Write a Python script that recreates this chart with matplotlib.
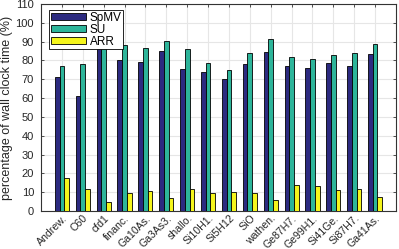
import numpy as np
import matplotlib
matplotlib.use('Agg')
import matplotlib.pyplot as plt

plt.rcParams['font.family'] = ['Liberation Sans', 'DejaVu Sans']

matrices = ['Andrew.', 'C60', 'cfd1', 'financ.', 'Ga10As.', 'Ga3As3.', 'shallo.',
            'Si10H1.', 'Si5H12', 'SiO', 'wathen.', 'Ge87H7.', 'Ge99H1.',
            'Si41Ge.', 'Si87H7.', 'Ga41As.']
spmv = [71.1, 61.2, 88.0, 80.4, 79.1, 84.8, 75.7, 74.1, 69.9, 78.2, 84.6,
        77.0, 76.1, 78.6, 77.2, 83.6]
su = [77.3, 77.9, 93.0, 88.0, 86.6, 90.1, 86.2, 78.8, 74.7, 84.1, 91.4,
      81.8, 80.9, 83.0, 83.7, 88.7]
arr = [17.8, 11.6, 4.6, 9.6, 10.5, 6.8, 11.6, 9.4, 10.3, 9.4, 5.7,
       13.7, 13.3, 11.0, 11.7, 7.6]

fig = plt.figure(figsize=(3.99, 2.49), dpi=100)
ax = fig.add_axes([41/399, 1 - 211/249, 355/399, 207/249])

x = np.arange(1, len(matrices) + 1)
w = 0.225
ax.bar(x - w, spmv, w, color='#2c2a80', edgecolor='black', linewidth=0.6, label='SpMV', zorder=3)
ax.bar(x, su, w, color='#2db59a', edgecolor='black', linewidth=0.6, label='SU', zorder=3)
ax.bar(x + w, arr, w, color='#f5f51c', edgecolor='black', linewidth=0.6, label='ARR', zorder=3)

ax.set_xlim(0, 17)
ax.set_ylim(0, 110)
ax.set_yticks(np.arange(0, 111, 10))
ax.set_xticks(x)
ax.set_xticklabels(matrices, rotation=45, ha='right', va='top', rotation_mode='anchor', fontsize=7.6)
ax.tick_params(axis='y', labelsize=8, pad=5)
ax.tick_params(axis='x', pad=1.5)
ax.tick_params(direction='in', top=True, right=True, length=2.5, width=0.6,
               colors='#333333', labelcolor='#262626')
ax.grid(True, color='#e6e6e6', linewidth=0.8, zorder=0)
ax.set_axisbelow(True)
for s in ax.spines.values():
    s.set_linewidth(0.8)
    s.set_color('#333333')
ax.set_ylabel('percentage of wall clock time (%)', fontsize=9, labelpad=2, color='#262626')

leg = ax.legend(loc='upper left', bbox_to_anchor=(0.022, 0.972), fontsize=8.5,
                handlelength=3.0, handleheight=0.6, handletextpad=0.3,
                labelspacing=0.0, borderpad=0.15, borderaxespad=0,
                fancybox=False, framealpha=1, edgecolor='black')
leg.get_frame().set_linewidth(0.6)

fig.savefig('out.png', dpi=100)
